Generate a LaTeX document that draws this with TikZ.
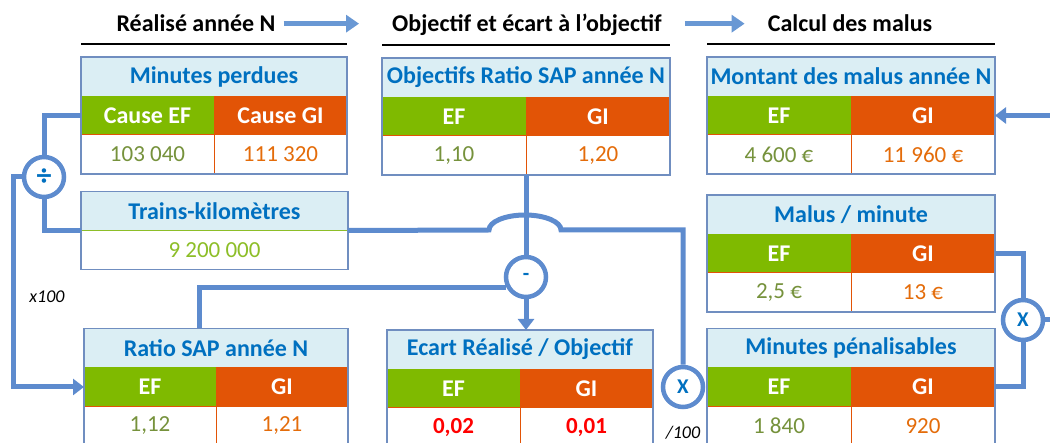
\documentclass[tikz,border=0pt]{standalone}
\usepackage{fontspec}
\setmainfont{Carlito}
\usetikzlibrary{positioning, arrows.meta}
\definecolor{titrefond}{RGB}{219,238,244}
\definecolor{titrebleu}{RGB}{0,112,192}
\definecolor{cadrebleu}{RGB}{112,142,192}
\definecolor{efvert}{RGB}{127,186,0}
\definecolor{giorange}{RGB}{226,84,6}
\definecolor{efolive}{RGB}{118,146,60}
\definecolor{gitexte}{RGB}{228,108,10}
\definecolor{tkvert}{RGB}{141,190,40}
\definecolor{lienbleu}{RGB}{93,139,206}
\definecolor{etapebleu}{RGB}{105,152,212}
\definecolor{ecartrouge}{RGB}{255,0,0}
\tikzset{
        >={Triangle[length=11pt,width=16pt]}, % filled arrow heads
        cellule/.style={rectangle, inner sep=0pt, outer sep=0pt, minimum height=39pt,
          font=\fontsize{23}{27}\selectfont}, % one cell of a table
        titre/.style={cellule, fill=titrefond, text=titrebleu, font=\fontsize{24}{28}\selectfont\bfseries},
        ef/.style={cellule, fill=efvert, text=white, font=\fontsize{24}{28}\selectfont\bfseries},
        gi/.style={cellule, fill=giorange, text=white, font=\fontsize{24}{28}\selectfont\bfseries},
        valeur/.style={cellule, fill=white},
        cadre/.style={draw=cadrebleu, line width=1.5pt}, % table frame
        filet/.style={draw=giorange, line width=1pt},
        lien/.style={draw=lienbleu, line width=5pt}, % connectors
        operation/.style={circle, draw=lienbleu, line width=4.5pt, fill=white, minimum size=40pt,
          inner sep=0pt, text=titrebleu, font=\fontsize{21}{24}\selectfont\bfseries},
        etiquette/.style={inner sep=0pt, font=\fontsize{24}{28}\selectfont\bfseries},
        souligne/.style={draw=black, line width=2.5pt},
        etape/.style={draw=etapebleu, line width=5pt, -{Triangle[length=13pt,width=17pt]}},
        remarque/.style={inner sep=0pt, font=\fontsize{18}{22}\selectfont\itshape},
    }
% name, centre of the title row, width, title, EF/GI heads, EF/GI values
\newcommand{\tableau}[8]{%
    \node[titre, minimum width=#3] (#1) at #2 {#4};
    \node[ef, minimum width=#3/2, below right=0pt and 0pt of #1.south west] (#1-ef) {#5};
    \node[gi, minimum width=#3/2, below left=0pt and 0pt of #1.south east] (#1-gi) {#6};
    \node[valeur, text=efolive, minimum width=#3/2, below=0pt of #1-ef] (#1-efv) {#7};
    \node[valeur, text=gitexte, minimum width=#3/2, below=0pt of #1-gi] (#1-giv) {#8};
    \draw[filet] (#1-ef.south west) -- (#1-gi.south east) (#1-efv.north east) -- (#1-efv.south east);
    \draw[cadre] (#1.north west) rectangle (#1-giv.south east);
}
\begin{document}
\begin{tikzpicture}[x=1pt, y=-1pt]
    \useasboundingbox (0,0) rectangle (1050,443);
    \clip (0,0) rectangle (1050,443);
    % stages
    \node[etiquette, anchor=base] (realise) at (196,32) {Réalisé année N};
    \node[etiquette, anchor=base] (objectif) at (527,32) {Objectif et écart à l’objectif};
    \node[etiquette, anchor=base] (calcul) at (850,32) {Calcul des malus};
    \draw[etape] ([xshift=8pt]realise.east) -- ([xshift=-33pt]realise.east -| objectif.west);
    \draw[etape] ([xshift=23pt]objectif.east |- calcul.west) -- ([xshift=-23pt]calcul.west);
    % tables
    \tableau{mp}{(214,76.5)}{266}{Minutes perdues}{Cause EF}{Cause GI}{103 040}{111 320}
    \tableau{obj}{(526,77.5)}{288}{Objectifs Ratio SAP année N}{EF}{GI}{1,10}{1,20}
    \tableau{mont}{(851,76.5)}{288}{Montant des malus année N}{EF}{GI}{4 600 €}{11 960 €}
    \tableau{mm}{(851,214.5)}{288}{Malus / minute}{EF}{GI}{2,5 €}{13 €}
    \tableau{ratio}{(216,348)}{264}{Ratio SAP année N}{EF}{GI}{1,12}{1,21}
    \tableau{ecart}{(520,349.5)}{266}{Ecart Réalisé / Objectif}{EF}{GI}%
      {\textcolor{ecartrouge}{\bfseries 0,02}}{\textcolor{ecartrouge}{\bfseries 0,01}}
    \tableau{minpen}{(851,348)}{288}{Minutes pénalisables}{EF}{GI}{1 840}{920}
    \node[titre, minimum width=267] (tk) at (214.5,211) {Trains-kilomètres};
    \node[valeur, text=tkvert, minimum width=267, below=0pt of tk] (tk-v) {9 200 000};
    \draw[draw=tkvert, line width=1pt] (tk.south west) -- (tk.south east);
    \draw[cadre] (tk.north west) rectangle (tk-v.south east);
    \foreach \t in {mp, obj, mont}
      \draw[souligne] ([yshift=13pt]\t.north west) -- ([yshift=13pt]\t.north east);
    % operations
    \node[operation, font=\fontsize{30}{30}\selectfont\bfseries] (div) at (44,177) {÷};
    \node[operation] (moins) at (526,277) {-};
    \node[operation] (x2) at (683,387) {X};
    \node[operation] (xr) at (1023,320) {X};
    \node[remarque] (fois) at (47,297) {x100};
    \node[remarque] (cent) at (683,433) {/100};
    \coordinate (bord) at (1065,115.5);
    % connectors
    \draw[lien] (div.north) |- (mp-ef.west);
    \draw[lien] (div.south) |- (tk.south west);
    \draw[lien, ->] (div.west) -- ++(-8,0) |- (ratio-ef.west);
    \draw[lien] (tk.south east) -- (489,230) arc[start angle=180, end angle=0, x radius=36pt, y radius=15pt]
      -| (x2.north);
    \draw[lien] (obj-efv.south east) -- (moins.north);
    \draw[lien, ->] (moins.south) -- (moins.south |- ecart.north);
    \draw[lien] ([xshift=115pt]ratio.north west) |- (moins.208);
    \draw[lien] (mm-gi.east) -| (xr.north);
    \draw[lien] (minpen-gi.east) -| (xr.south);
    \draw[lien, ->] (xr.east) -| (bord) -- (mont-gi.east);
\end{tikzpicture}
\end{document}
